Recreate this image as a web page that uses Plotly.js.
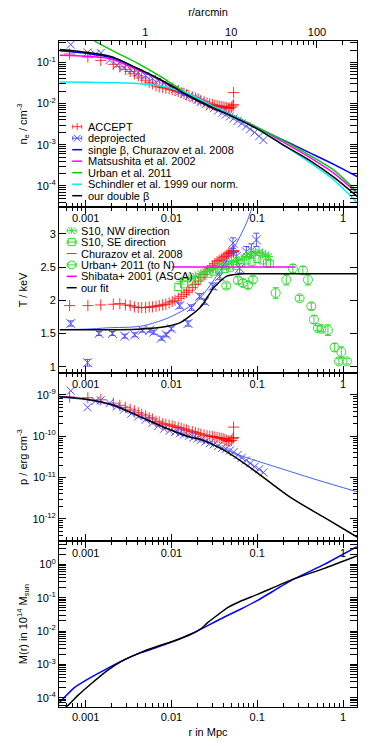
<!DOCTYPE html>
<html>
<head>
<meta charset="utf-8">
<script src="https://cdn.plot.ly/plotly-3.0.1.min.js"></script>
<style>
html, body { margin: 0; padding: 0; background: #fff; }
#graph { width: 374px; height: 749px; }
</style>
</head>
<body>
<div id="graph"></div>
<script>
// all radii in Mpc

// ACCEPT profile (red +)
var accept_r = [0.00065,0.00106,0.0015,0.0021,0.0025,0.0029,0.0033,0.0037,0.0041,0.0045,0.005,0.0055,0.006,0.0066,0.0072,0.0079,0.0086,0.0094,0.0102,0.011,0.012,0.013,0.014,0.015,0.016,0.0175,0.019,0.0205,0.022,0.024,0.026,0.028,0.030,0.032,0.034,0.036,0.038,0.040,0.042,0.044,0.046,0.048,0.050,0.052,0.053,0.053];
var accept_ne = [0.16,0.135,0.112,0.09,0.078,0.068,0.06,0.053,0.047,0.042,0.037,0.033,0.03,0.027,0.0255,0.0245,0.0238,0.0228,0.0218,0.0208,0.0198,0.0186,0.0175,0.0165,0.0156,0.0146,0.0137,0.0128,0.0118,0.011,0.0103,0.0098,0.0094,0.0091,0.0089,0.0087,0.0085,0.0083,0.0081,0.0079,0.0077,0.0078,0.0082,0.0088,0.0094,0.0185];
var accept_T = [1.92,1.92,1.93,1.94,1.95,1.93,1.92,1.9,1.89,1.89,1.89,1.9,1.9,1.91,1.92,1.93,1.94,1.96,1.98,2.0,2.03,2.06,2.09,2.12,2.15,2.19,2.24,2.29,2.34,2.39,2.44,2.48,2.52,2.55,2.58,2.6,2.62,2.64,2.66,2.68,2.7,2.71,2.72,2.74,2.75,2.73];
var accept_p = [8.9e-10,8.5e-10,7.6e-10,6.3e-10,5.6e-10,5.0e-10,4.5e-10,4.1e-10,3.7e-10,3.4e-10,3.1e-10,2.8e-10,2.6e-10,2.3e-10,2.2e-10,2.0e-10,1.95e-10,1.86e-10,1.78e-10,1.7e-10,1.62e-10,1.55e-10,1.48e-10,1.41e-10,1.35e-10,1.29e-10,1.23e-10,1.17e-10,1.12e-10,1.07e-10,1.02e-10,1.0e-10,9.8e-11,9.5e-11,9.3e-11,9.1e-11,8.9e-11,8.7e-11,8.3e-11,7.9e-11,7.6e-11,7.6e-11,7.9e-11,8.7e-11,9.3e-11,1.66e-10];

// deprojected (blue x)
var dep_r = [0.00067,0.00105,0.0013,0.0015,0.0019,0.0023,0.0028,0.0034,0.0041,0.005,0.006,0.007,0.0082,0.0095,0.011,0.0125,0.014,0.016,0.018,0.020,0.022,0.025,0.028,0.031,0.035,0.039,0.043,0.048,0.053,0.059,0.066,0.074,0.083,0.093,0.105,0.118];
var dep_ne = [0.27,0.175,0.158,0.17,0.114,0.086,0.075,0.064,0.056,0.048,0.041,0.036,0.031,0.026,0.0225,0.0195,0.0172,0.0152,0.0135,0.0122,0.011,0.0097,0.0086,0.0077,0.0068,0.006,0.0054,0.0049,0.0044,0.0038,0.0033,0.0028,0.0024,0.002,0.0016,0.0013];
var dep_p = [1.26e-9,5.0e-10,7.1e-10,7.4e-10,6.3e-10,5.2e-10,4.4e-10,3.5e-10,3.0e-10,2.5e-10,2.1e-10,1.78e-10,1.51e-10,1.35e-10,1.26e-10,1.17e-10,1.1e-10,1.02e-10,9.3e-11,8.7e-11,8.1e-11,7.4e-11,6.8e-11,6.3e-11,5.8e-11,5.2e-11,4.9e-11,4.5e-11,4.1e-11,3.5e-11,3.0e-11,2.6e-11,2.2e-11,1.82e-11,1.58e-11,1.32e-11];
var depT_r = [0.00067,0.00105,0.00143,0.00205,0.00285,0.00373,0.00458,0.00557,0.00621,0.00763,0.00873,0.00998,0.0125,0.0156,0.0171,0.0213,0.0244,0.0305,0.0365,0.0436,0.0521,0.057,0.0623,0.0747,0.0853,0.0977];
var depT = [1.65,1.06,1.5,1.5,1.46,1.48,1.55,1.55,1.52,1.43,1.48,1.57,1.92,1.65,1.89,2.06,1.98,2.21,2.36,2.53,2.86,2.66,2.48,2.73,2.75,2.91];
var depT_err = [0.04,0.05,0.03,0.03,0.03,0.03,0.03,0.03,0.03,0.03,0.03,0.03,0.04,0.04,0.04,0.04,0.04,0.05,0.05,0.06,0.08,0.07,0.07,0.08,0.1,0.1];

// density models
var mod_r = [0.0005,0.001,0.002,0.004,0.008,0.015,0.03,0.05,0.1,0.2,0.4,0.8,1.46];
var ne_double = [0.207,0.177,0.138,0.072,0.0352,0.0166,0.00805,0.00501,0.00243,0.000995,0.000431,0.000158,5.57e-5];
var ne_single = [0.193,0.168,0.131,0.07,0.0343,0.0161,0.00781,0.0053,0.00256,0.00131,0.000655,0.000326,0.00017];
var ne_matsu = [0.15,0.142,0.12,0.066,0.0352,0.0171,0.00828,0.0053,0.00264,0.00117,0.000509,0.000197,6.65e-5];
var ne_schind = [0.0334,0.0328,0.0321,0.0307,0.026,0.0181,0.00875,0.0053,0.00243,0.000995,0.000385,0.000134,3.92e-5];
var urbanLine_r = [0.00127,0.002,0.004,0.008,0.015,0.03,0.05,0.1,0.2,0.4,0.8,1.44];
var ne_urban = [0.328,0.199,0.0962,0.0417,0.0176,0.00828,0.0053,0.00264,0.00128,0.000569,0.000233,7.36e-5];

// temperature
var nw_r = [0.013,0.016,0.019,0.022,0.025,0.028,0.031,0.035,0.039,0.044,0.05,0.057,0.065,0.075,0.085,0.095,0.105,0.115,0.125,0.135];
var nw_T = [2.28,2.33,2.36,2.4,2.43,2.46,2.48,2.5,2.52,2.55,2.58,2.6,2.62,2.66,2.7,2.72,2.73,2.7,2.68,2.66];
var se_r = [0.012,0.014,0.017,0.02,0.023,0.027,0.031,0.036,0.042,0.048,0.056,0.065,0.075,0.086,0.1,0.115,0.13,0.14];
var se_T = [2.2,2.24,2.28,2.31,2.36,2.4,2.43,2.45,2.47,2.49,2.52,2.56,2.6,2.58,2.62,2.6,2.56,2.55];
var urb_r = [0.0436,0.0596,0.0681,0.0779,0.0891,0.164,0.218,0.26,0.312,0.341,0.39,0.427,0.458,0.509,0.558,0.667,0.798,0.895,0.955,1.11];
var urb_T = [2.22,2.3,2.26,2.23,2.31,2.11,2.31,2.48,2.03,2.45,2.31,1.91,1.71,1.58,1.57,1.55,1.29,1.08,1.22,1.08];
var urb_err = [0.04,0.05,0.05,0.05,0.05,0.08,0.08,0.06,0.04,0.06,0.08,0.05,0.06,0.04,0.04,0.08,0.06,0.04,0.08,0.04];
var shib_r = [0.0102,0.28];
var shib_T = [2.5,2.5];
var churT_r = [0.0005,0.001,0.0018,0.0044,0.009,0.0142,0.0205,0.0334,0.052,0.0747,0.088];
var churT = [1.56,1.565,1.585,1.61,1.73,1.86,2.0,2.36,2.76,3.16,3.42];
var fitT_r = [0.0005,0.002,0.004,0.006,0.009,0.0125,0.0163,0.02,0.0233,0.0254,0.0279,0.0305,0.0334,0.0365,0.0436,0.052,0.07,0.1,1.46];
var fitT = [1.555,1.556,1.565,1.58,1.61,1.66,1.76,1.85,1.94,2.02,2.1,2.18,2.23,2.28,2.36,2.385,2.398,2.4,2.4];

// pressure
var fitp_r = [0.000489,0.00102,0.00208,0.00426,0.00873,0.0163,0.0213,0.0398,0.0623,0.0977,0.239,0.583,1.46];
var fitp = [9.1e-10,7.85e-10,5.71e-10,2.98e-10,1.56e-10,9.5e-11,8.5e-11,4.7e-11,2.63e-11,1.35e-11,3.4e-12,1.12e-12,3.6e-13];
var churp_r = [0.0005,0.001,0.002,0.004,0.008,0.015,0.025,0.04,0.06,0.1,0.2,0.5,1.46];
var churp = [8.7e-10,7.6e-10,5.6e-10,3.16e-10,1.66e-10,1.05e-10,7.2e-11,5.0e-11,3.55e-11,2.5e-11,1.58e-11,8.7e-12,4.5e-12];

// mass in 1e14 Msun
var massB_r = [0.000489,0.000738,0.00115,0.0018,0.00282,0.00441,0.0069,0.0108,0.0169,0.0221,0.0264,0.0414,0.0646,0.101,0.259,0.606,1.45];
var massB = [6.9e-5,2.0e-4,4.07e-4,7.6e-4,1.38e-3,2.24e-3,3.31e-3,5.01e-3,7.94e-3,0.01148,0.01445,0.0263,0.0457,0.0832,0.347,1.0,3.39];
var massK_r = [0.000585,0.000617,0.000807,0.00115,0.0018,0.00258,0.00441,0.0069,0.0108,0.0169,0.0221,0.0264,0.0345,0.0452,0.0646,0.101,0.259,0.606,1.45];
var massK = [5.25e-5,5.75e-5,1.15e-4,2.57e-4,6.6e-4,1.2e-3,2.29e-3,3.47e-3,5.13e-3,8.13e-3,0.0117,0.0178,0.0302,0.0501,0.0794,0.126,0.355,0.759,1.78];

var FONT = 'Liberation Sans, Arial, sans-serif';
var RED = 'rgba(255,0,0,0.8)', DEPBLUE = '#5050ff', PTGREEN = '#33dd33';

function pts(x, y, xa, ya, sym, color, size, err) {
	var t = {x: x, y: y, xaxis: xa, yaxis: ya, mode: 'markers', type: 'scatter',
		marker: {symbol: sym, size: size, color: color, line: {color: color, width: 1}}};
	if (err) t.error_y = {type: 'data', array: err, visible: true, color: color, thickness: 1, width: 3};
	return t;
}
function line(x, y, xa, ya, color, w, sm) {
	return {x: x, y: y, xaxis: xa, yaxis: ya, mode: 'lines', type: 'scatter',
		line: {color: color, width: w, shape: 'spline', smoothing: sm || 0.8}};
}
// keeps the extra tick-label axes alive (no visible mark)
function axisHolder(xa, ya, xval) {
	return {x: [xval], y: [null], xaxis: xa, yaxis: ya, mode: 'markers', type: 'scatter', hoverinfo: 'skip'};
}

var traces = [
	pts(accept_r, accept_ne, 'x', 'y', 'cross-thin-open', RED, 8),
	pts(dep_r, dep_ne, 'x', 'y', 'x-thin-open', DEPBLUE, 8),
	line(mod_r, ne_single, 'x', 'y', '#0000ff', 1.5),
	line(mod_r, ne_matsu, 'x', 'y', '#ff00ff', 1.5),
	line(urbanLine_r, ne_urban, 'x', 'y', '#00cc00', 1.5),
	line(mod_r, ne_schind, 'x', 'y', '#00eeee', 1.5),
	line(mod_r, ne_double, 'x', 'y', '#000000', 1.5),
	axisHolder('x5', 'y', 1),

	pts(accept_r, accept_T, 'x2', 'y2', 'cross-thin-open', RED, 8),
	pts(depT_r, depT, 'x2', 'y2', 'x-thin-open', DEPBLUE, 9, depT_err),
	pts(nw_r, nw_T, 'x2', 'y2', 'asterisk-open', PTGREEN, 8),
	pts(se_r, se_T, 'x2', 'y2', 'square-open', PTGREEN, 7),
	line(churT_r, churT, 'x2', 'y2', '#4060ff', 1),
	pts(urb_r, urb_T, 'x2', 'y2', 'circle-open', PTGREEN, 9, urb_err),
	line(shib_r, shib_T, 'x2', 'y2', '#ff00ff', 1.5),
	line(fitT_r, fitT, 'x2', 'y2', '#000000', 1.5),

	pts(accept_r, accept_p, 'x3', 'y3', 'cross-thin-open', RED, 8),
	pts(dep_r, dep_p, 'x3', 'y3', 'x-thin-open', DEPBLUE, 8),
	line(churp_r, churp, 'x3', 'y3', '#4060ff', 1),
	line(fitp_r, fitp, 'x3', 'y3', '#000000', 1.5),

	line(massB_r, massB, 'x4', 'y4', '#0000ff', 1.5, 0.5),
	line(massK_r, massK, 'x4', 'y4', '#000000', 1.5, 0.5),
	axisHolder('x6', 'y4', 0.01)
];

// plot area in page pixels, used for the hand-made keys
var PL = 59.3, PR = 357.3, PT = 41, PB = 707;
function fx(x) { return (x - PL) / (PR - PL); }
function fy(y) { return (PB - y) / (PB - PT); }

var shapes = [], annotations = [];
function seg(x0, y0, x1, y1, color, w) {
	shapes.push({type: 'line', xref: 'paper', yref: 'paper', x0: fx(x0), y0: fy(y0), x1: fx(x1), y1: fy(y1), line: {color: color, width: w || 1}});
}
function errKey(cx, cy, color) {
	seg(cx - 4.5, cy, cx + 4.5, cy, color);
	seg(cx - 4.5, cy - 2, cx - 4.5, cy + 2, color);
	seg(cx + 4.5, cy - 2, cx + 4.5, cy + 2, color);
}
function keySymbol(kind, cx, cy, color) {
	if (kind == 'line') { seg(cx - 5, cy, cx + 5, cy, color, 1.5); return; }
	if (kind == 'thin') { seg(cx - 5, cy, cx + 5, cy, color, 1); return; }
	errKey(cx, cy, color);
	var s = 3.5;
	if (kind == 'plus' || kind == 'ast') seg(cx, cy - s, cx, cy + s, color);
	if (kind == 'x' || kind == 'ast') { seg(cx - s, cy - s, cx + s, cy + s, color); seg(cx - s, cy + s, cx + s, cy - s, color); }
	if (kind == 'square') shapes.push({type: 'rect', xref: 'paper', yref: 'paper', x0: fx(cx - s), x1: fx(cx + s), y0: fy(cy + s), y1: fy(cy - s), line: {color: color, width: 1}});
	if (kind == 'circle') shapes.push({type: 'circle', xref: 'paper', yref: 'paper', x0: fx(cx - 4), x1: fx(cx + 4), y0: fy(cy + 4), y1: fy(cy - 4), line: {color: color, width: 1}});
}
function keyText(x, y, text) {
	annotations.push({xref: 'paper', yref: 'paper', x: fx(x), y: fy(y), xanchor: 'left', yanchor: 'middle',
		text: text, showarrow: false, font: {family: FONT, size: 11, color: '#000'}});
}

var key1 = [
	['plus', RED, 'ACCEPT'],
	['x', DEPBLUE, 'deprojected'],
	['line', '#0000ff', 'single β, Churazov et al. 2008'],
	['line', '#ff00ff', 'Matsushita et al. 2002'],
	['line', '#00cc00', 'Urban et al. 2011'],
	['line', '#00eeee', 'Schindler et al. 1999 our norm.'],
	['line', '#000000', 'our double β']
];
var key2 = [
	['ast', PTGREEN, 'S10, NW direction'],
	['square', PTGREEN, 'S10, SE direction'],
	['thin', '#4060ff', 'Churazov et al. 2008'],
	['circle', PTGREEN, 'Urban+ 2011 (to N)'],
	['line', '#ff00ff', 'Shibata+ 2001 (ASCA)'],
	['line', '#000000', 'our fit']
];
for (var i = 0; i < key1.length; i++) {
	keySymbol(key1[i][0], 77.5, 126.7 + i * 11.5, key1[i][1]);
	keyText(86, 126.7 + i * 11.5, key1[i][2]);
}
for (var i = 0; i < key2.length; i++) {
	keySymbol(key2[i][0], 72, 230.7 + i * 11.4, key2[i][1]);
	keyText(79, 230.7 + i * 11.4, key2[i][2]);
}

var tickfont = {family: FONT, size: 11, color: '#000'};
var minorTicks = {ticks: 'inside', ticklen: 4, tickcolor: '#000', dtick: 'D1'};
function xAxis(anchor, extra) {
	var a = {type: 'log', range: [-3.311, 0.163], anchor: anchor, showline: true, linecolor: '#000', linewidth: 1,
		ticks: 'inside', ticklen: 7, tickcolor: '#000', showgrid: false, zeroline: false,
		tickvals: [0.001, 0.01, 0.1, 1], ticktext: ['0.001', '0.01', '0.1', '1'],
		minor: minorTicks, tickfont: tickfont};
	for (var k in extra) a[k] = extra[k];
	return a;
}
function yAxis(anchor, domain, extra) {
	var a = {anchor: anchor, domain: domain, showline: true, linecolor: '#000', linewidth: 1, mirror: 'allticks',
		ticks: 'inside', ticklen: 7, tickcolor: '#000', showgrid: false, zeroline: false, tickfont: tickfont};
	for (var k in extra) a[k] = extra[k];
	return a;
}
function pow10(list) {
	return list.map(function (e) { return '10<sup>' + e + '</sup>'; });
}

var layout = {
	width: 374, height: 749,
	margin: {l: 59, r: 17, t: 41, b: 42},
	paper_bgcolor: '#fff', plot_bgcolor: '#fff',
	showlegend: false,
	font: {family: FONT, size: 11, color: '#000'},
	xaxis: xAxis('y', {side: 'bottom', showticklabels: false}),
	xaxis5: xAxis('y', {overlaying: 'x', side: 'top', range: [-1.007, 2.467],
		tickvals: [1, 10, 100], ticktext: ['1', '10', '100'],
		title: {text: 'r/arcmin', font: {family: FONT, size: 11}, standoff: 6}}),
	xaxis2: xAxis('y2', {side: 'top', mirror: 'allticks', ticklabelposition: 'inside'}),
	xaxis3: xAxis('y3', {side: 'top', mirror: 'allticks', ticklabelposition: 'inside'}),
	xaxis4: xAxis('y4', {side: 'top', mirror: 'allticks', ticklabelposition: 'inside'}),
	xaxis6: xAxis('y4', {overlaying: 'x4', side: 'bottom',
		title: {text: 'r in Mpc', font: {family: FONT, size: 11}, standoff: 6}}),
	yaxis: yAxis('x', [0.7508, 1], {type: 'log', range: [-4.51, -0.48],
		tickvals: [1e-4, 1e-3, 1e-2, 1e-1], ticktext: pow10(['-4', '-3', '-2', '-1']), minor: minorTicks,
		title: {text: 'n<sub>e</sub> / cm<sup>-3</sup>', font: {family: FONT, size: 11}}}),
	yaxis2: yAxis('x2', [0.5015, 0.7508], {range: [0.905, 3.405], tickvals: [1, 1.5, 2, 2.5, 3], ticktext: ['1', '1.5', '2', '2.5', '3'],
		title: {text: 'T / keV', font: {family: FONT, size: 11}}}),
	yaxis3: yAxis('x3', [0.2492, 0.5015], {type: 'log', range: [-12.54, -8.47],
		tickvals: [1e-12, 1e-11, 1e-10, 1e-9], ticktext: pow10(['-12', '-11', '-10', '-9']), minor: minorTicks,
		title: {text: 'p / erg cm<sup>-3</sup>', font: {family: FONT, size: 11}}}),
	yaxis4: yAxis('x4', [0, 0.2492], {type: 'log', range: [-4.28, 0.70],
		tickvals: [1e-4, 1e-3, 1e-2, 1e-1, 1], ticktext: pow10(['-4', '-3', '-2', '-1', '0']), minor: minorTicks,
		title: {text: 'M(r) in 10<sup>14</sup> M<sub>sun</sub>', font: {family: FONT, size: 11}}}),
	shapes: shapes,
	annotations: annotations
};

Plotly.newPlot('graph', traces, layout, {displayModeBar: false, staticPlot: true});
</script>
</body>
</html>
